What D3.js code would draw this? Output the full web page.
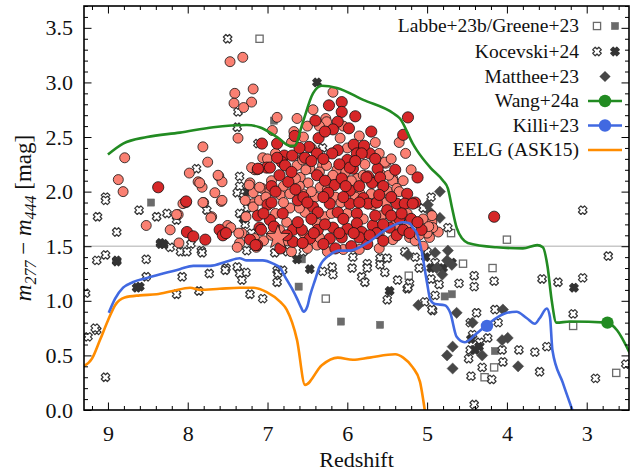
<!DOCTYPE html>
<html><head><meta charset="utf-8">
<script src="https://cdn.jsdelivr.net/npm/d3@7"></script>
<style>
body{margin:0;background:#fff}
svg{display:block}
text{font-family:"Liberation Serif","Times New Roman",serif;fill:#111}
</style>
</head><body>
<svg id="chart" width="634" height="476"></svg>
<script>
// ---- data: redshift z, colour m277 - m444 ----
const zTicks = [9, 8, 7, 6, 5, 4, 3];
const yTicks = [0, 0.5, 1, 1.5, 2, 2.5, 3, 3.5];

const labbeOpen = [[7.10,3.40],[6.27,1.02],[5.23,1.23],[4.70,1.62],[4.00,1.56],[4.55,1.34],[4.18,1.30],
  [3.17,0.77],[2.63,0.34],[4.28,0.30],[4.16,0.39]];
const greeneFilled = [[8.46,1.90],[6.92,2.65],[6.57,1.38],[6.61,1.13],[6.08,0.81],[5.59,0.78],
  [4.78,1.04],[4.69,1.06],[4.15,0.54]];

const kocevskiOpen = [[7.50,3.40],[7.37,2.73],[7.38,2.59],[7.89,2.21],[7.35,2.14],[8.61,1.83],[8.39,1.77],
  [8.26,1.80],[9.13,1.77],[9.03,1.95],[9.03,1.92],[7.38,1.99],[7.76,1.83],[9.14,1.37],[9.03,1.42],
  [8.89,1.63],[8.89,1.37],[9.25,0.67],[9.14,0.73],[9.03,0.30],[9.28,1.07],[8.14,1.74],[8.52,1.38],
  [8.34,1.52],[8.22,1.49],[8.09,1.45],[7.96,1.52],[7.83,1.46],[7.73,1.25],[7.52,1.30],[7.38,1.31],
  [7.27,1.26],[8.07,1.22],[8.52,1.22],[7.82,1.44],[8.14,1.06],[7.86,1.09],[7.35,1.25],[7.32,1.19],
  [7.22,1.06],[7.06,1.02],[6.88,1.17],[9.16,0.75],[7.26,1.46],[8.01,1.45],[7.53,1.28],[6.88,1.28],
  [5.93,1.40],[5.75,1.34],[5.59,1.39],[5.37,1.19],[5.22,1.16],[6.91,1.44],[6.87,1.25],[6.81,1.28],
  [6.31,1.27],[6.19,1.31],[6.18,1.24],[5.94,1.30],[5.75,1.30],[5.82,1.22],[5.78,1.17],[5.59,1.33],
  [5.50,1.39],[5.53,1.26],[5.25,1.11],[5.50,1.01],[5.03,0.99],[4.93,0.91],[3.05,1.83],[2.73,1.41],
  [3.05,1.21],[3.36,1.17],[3.56,1.20],[3.17,0.88],[4.41,1.23],[4.41,1.13],[4.16,1.18],[4.60,1.16],
  [5.24,1.12],[4.74,1.67],[3.85,0.55],[3.65,0.53],[3.50,0.58],[3.59,0.35],[2.89,0.29],[2.51,0.42],
  [4.41,0.05],[4.05,0.44],[4.19,0.28],[4.31,0.39],[4.45,0.31],[4.48,0.47],[4.46,0.55],[4.06,0.55],
  [4.38,0.89],[4.15,0.92],[4.11,0.80],[4.24,0.66],[4.34,0.62],[4.43,0.69],[4.46,0.80],[5.28,1.45],
  [4.94,0.92],[7.35,2.05],[7.30,1.95],[7.25,1.85],[7.35,1.80],[7.28,1.70],[7.20,1.62],[5.05,1.85],
  [4.95,1.95],[5.00,1.45],[4.90,1.35],[5.10,1.30],[5.15,1.40],[4.85,1.15],[4.90,1.05],[4.95,1.20],
  [6.75,1.45],[6.55,1.45],[7.12,2.44],[6.31,2.40]];
const kocevskiFilled = [[6.38,3.00],[6.63,1.38],[6.47,1.29],[5.47,1.09],[3.16,1.12],[4.69,1.35],[4.40,0.55],
  [8.64,1.12],[8.60,1.13],[8.89,1.36],[8.34,1.53],[8.30,1.52],[7.30,1.75],[7.25,2.00],[4.45,0.65],
  [4.35,0.58],[5.02,1.40],[4.95,1.30],[4.80,1.30]];

const mattheeDiamonds = [[4.84,2.00],[4.99,1.88],[4.96,1.81],[4.84,1.76],[4.74,1.46],[4.75,1.37],[4.69,1.33],
  [4.90,1.44],[5.24,1.42],[4.88,1.30],[4.81,1.24],[5.11,0.96],[4.63,0.89],[4.43,0.80],[4.05,0.92],
  [3.99,0.66],[4.06,0.64],[4.68,0.58],[4.75,0.50],[4.68,0.38],[3.86,0.40],[4.31,0.50]];

const lrdLight = [[7.47,3.19],[7.31,3.23],[7.41,2.90],[7.42,2.81],[7.18,2.94],[7.20,2.82],[7.30,2.77],
  [7.37,2.49],[7.81,2.41],[8.79,2.31],[7.75,2.27],[8.87,2.11],[8.81,2.00],[7.98,2.17],[7.87,2.09],
  [7.82,2.04],[7.61,2.14],[7.57,2.09],[7.66,1.99],[7.80,1.90],[7.58,1.91],[7.22,2.08],[7.10,2.21],
  [7.07,2.03],[6.94,2.56],[6.88,2.68],[8.12,1.79],[8.06,1.89],[7.18,1.89],[6.63,2.67],[6.43,2.75],
  [6.18,2.91],[6.27,2.67],[6.26,2.64],[6.67,2.55],[6.09,2.49],[6.56,2.31],[6.31,2.24],[5.85,2.51],
  [5.27,2.35],[5.52,2.26],[5.57,2.15],[5.43,2.12],[7.16,2.20],[7.06,2.31],[6.63,2.24],[6.56,2.29],
  [6.47,2.21],[6.26,2.24],[6.13,2.20],[5.53,2.27],[5.43,2.10],[5.88,2.12],[7.18,1.99],[6.97,2.01],
  [6.84,1.97],[6.59,2.13],[6.49,2.08],[6.56,1.98],[6.34,2.04],[5.50,2.01],[5.38,2.03],[5.84,1.98],
  [6.72,1.98],[7.18,1.86],[7.10,1.92],[6.72,1.85],[6.53,1.81],[6.28,1.77],[5.57,1.78],[5.25,1.80],
  [4.94,1.72],[7.16,1.57],[6.76,1.72],[6.38,1.71],[5.43,1.56],[5.22,1.58],[4.97,1.58],[4.86,1.63],
  [4.94,1.78],[4.93,1.67],[7.14,1.49],[6.38,1.51],[7.81,1.90],[7.57,1.92],[7.50,1.69],[7.32,1.62],
  [7.35,1.53],[7.70,1.77],[7.85,2.08],[7.62,2.15],[7.28,1.92],[7.10,2.04],[7.20,2.22],[7.13,2.20],
  [8.52,1.69],[8.22,1.65],[8.14,1.79],[8.11,1.53],[7.71,1.76],[7.46,1.67],[7.36,1.62],[7.38,1.49],
  [7.27,1.77],[7.23,2.06],[8.02,1.90],[5.60,1.48],[5.85,1.47],[6.05,1.47],[6.25,1.45],[6.50,1.48],
  [6.70,1.45],[7.05,1.55],[6.85,1.65],[6.40,1.95],[6.15,1.95],[5.95,2.10],[5.70,1.98],[5.30,2.10],
  [5.20,2.20],[5.15,1.55],[5.05,1.75],[5.00,1.62],[6.00,2.40],[6.50,2.60],[5.65,2.45],[5.45,2.30],
  [6.95,2.10],[6.60,2.05],[6.20,2.12],[5.78,2.25],[6.90,1.80],
  [6.80,2.05],[6.65,2.12],[6.52,2.20],[6.35,2.18],[6.18,2.15],[6.02,2.18],[5.80,2.15],[5.62,2.10],
  [5.48,2.15],[5.35,2.00],[5.25,1.70],[5.40,1.70],[5.60,1.62],[5.80,1.75],[6.00,1.80],[6.20,1.80],
  [6.35,1.58],[6.55,1.62],[6.75,1.55],[6.95,1.60],[6.80,1.90],[6.60,1.85],[6.45,2.00],[6.25,2.02],
  [6.08,1.90],[5.90,1.95],[5.68,1.88],[5.52,1.90],[7.02,1.95],[6.90,2.35],[6.70,2.45],[6.55,2.50],
  [6.35,2.60],[6.05,2.60],[5.80,2.40],[5.60,2.35],[7.00,2.30],[6.45,2.40],[5.35,2.45],[5.10,1.60],
  [5.05,1.50],[4.98,1.68]];
const lrdDark = [[8.37,2.04],[8.02,1.91],[7.07,2.44],[6.88,2.44],[7.12,1.78],[7.00,1.88],[6.66,2.51],
  [6.48,2.41],[6.36,2.49],[6.23,2.79],[6.07,2.82],[6.07,2.73],[6.12,2.64],[6.18,2.57],[5.90,2.69],
  [5.92,2.43],[6.00,2.29],[6.12,2.38],[6.79,2.33],[6.82,2.27],[7.01,2.22],[5.24,2.68],[5.30,2.52],
  [5.88,2.35],[5.72,2.35],[5.79,2.42],[5.93,2.21],[5.62,2.21],[5.74,2.14],[5.12,2.13],[4.16,1.77],
  [7.12,2.21],[6.97,2.22],[6.88,2.31],[6.78,2.24],[6.69,2.33],[6.53,2.31],[6.38,2.35],[6.19,2.35],
  [5.97,2.22],[5.82,2.35],[6.74,2.09],[6.38,2.15],[6.16,2.06],[6.24,1.99],[5.97,2.01],[5.69,2.08],
  [5.59,2.13],[5.76,2.13],[5.25,1.98],[5.15,1.90],[6.07,2.12],[6.81,1.80],[6.62,1.92],[6.43,1.86],
  [6.22,1.89],[6.12,1.81],[5.97,1.89],[5.80,1.94],[5.74,1.89],[5.63,1.90],[5.50,1.83],[5.38,1.89],
  [5.28,1.89],[5.18,1.89],[5.88,1.80],[6.37,1.81],[7.10,1.67],[6.97,1.74],[6.84,1.48],[6.68,1.65],
  [6.57,1.65],[6.47,1.57],[6.18,1.67],[6.00,1.66],[5.88,1.71],[5.82,1.63],[5.68,1.69],[5.63,1.62],
  [5.47,1.67],[5.38,1.60],[5.30,1.65],[5.07,1.65],[6.22,1.57],[6.37,1.65],[6.07,1.58],[6.68,1.54],
  [6.56,1.53],[8.01,1.63],[7.93,1.59],[7.78,1.56],[7.60,1.65],[7.56,1.60],[7.22,1.56],[7.13,1.51],
  [7.52,1.62],[7.08,1.65],[7.15,1.51],[5.55,1.55],[5.75,1.52],[5.95,1.50],[6.15,1.48],[6.30,1.52],
  [5.20,1.75],[5.35,1.75],[5.45,1.78],[5.65,1.78],[5.85,1.58],[6.05,1.75],[6.45,1.75],[6.55,1.95],
  [6.95,1.90],
  [6.95,2.05],[6.85,2.15],[6.70,2.18],[6.60,2.40],[6.45,2.28],[6.30,2.30],[6.28,2.10],[6.10,2.25],
  [6.02,2.05],[5.90,2.28],[5.85,2.05],[5.65,2.30],[5.55,2.05],[5.45,1.95],[5.40,2.20],[5.32,1.80],
  [5.22,1.62],[5.12,1.72],[5.55,1.70],[5.72,1.60],[5.92,1.62],[6.10,1.62],[6.28,1.70],[6.42,1.62],
  [6.62,1.72],[6.76,1.60],[6.92,1.68],[7.05,1.80],[6.50,1.90],[6.30,1.95],[6.05,1.95],[5.85,1.90],
  [5.60,1.97],[6.90,2.00],[6.65,2.02],[5.98,2.58],[6.28,2.55],[6.40,2.65],[5.70,2.55]];
const lrdStar = [[6.87,1.58]];

// model colour tracks
const wangTrack = [[9.00,2.34],[8.81,2.44],[8.51,2.50],[8.10,2.54],[7.68,2.59],[7.26,2.61],[7.10,2.59],
  [6.88,2.50],[6.72,2.42],[6.66,2.42],[6.56,2.63],[6.43,2.90],[6.32,2.97],[6.13,2.95],[5.80,2.84],
  [5.43,2.72],[5.34,2.67],[5.18,2.44],[5.13,2.38],[4.96,2.22],[4.80,2.10],[4.74,2.03],[4.69,1.86],
  [4.63,1.67],[4.56,1.57],[4.49,1.53],[4.13,1.49],[3.80,1.48],[3.62,1.51],[3.55,1.49],[3.49,1.31],
  [3.44,1.01],[3.38,0.80],[3.21,0.81],[2.74,0.80],[2.62,0.73],[2.46,0.52]];
const wangPoint = [[2.74,0.80]];
const killiTrack = [[8.99,0.89],[8.91,1.02],[8.81,1.12],[8.69,1.17],[8.51,1.21],[8.31,1.25],[8.10,1.29],
  [7.93,1.32],[7.72,1.32],[7.51,1.36],[7.35,1.39],[7.26,1.37],[7.06,1.37],[6.93,1.34],[6.84,1.30],
  [6.78,1.22],[6.70,1.12],[6.63,1.02],[6.58,0.94],[6.55,0.90],[6.50,0.95],[6.47,1.04],[6.40,1.20],
  [6.35,1.31],[6.22,1.42],[6.09,1.46],[5.97,1.46],[5.75,1.53],[5.50,1.66],[5.30,1.72],[5.22,1.71],
  [5.18,1.67],[5.13,1.62],[5.07,1.46],[5.00,1.16],[4.96,1.01],[4.90,0.97],[4.78,0.96],[4.71,0.89],
  [4.63,0.67],[4.53,0.62],[4.38,0.70],[4.25,0.78],[4.00,0.89],[3.88,0.90],[3.75,0.84],[3.65,0.79],
  [3.59,0.84],[3.50,0.93],[3.46,0.85],[3.43,0.55],[3.30,0.25],[3.18,0.00]];
const killiPoint = [[4.25,0.77]];
const eelgTrack = [[9.31,0.40],[9.20,0.47],[9.10,0.64],[9.00,0.82],[8.91,0.96],[8.79,1.03],[8.60,1.05],
  [8.39,1.06],[8.19,1.09],[7.97,1.12],[7.85,1.10],[7.60,1.11],[7.35,1.12],[7.18,1.12],[7.01,1.08],
  [6.84,0.99],[6.76,0.92],[6.63,0.64],[6.53,0.23],[6.32,0.41],[6.12,0.48],[5.93,0.46],[5.72,0.48],
  [5.40,0.51],[5.30,0.48],[5.18,0.39],[5.09,0.26],[5.03,0.00]];

const colors = {wang:"#228b22", killi:"#4169e1", eelg:"#ff8c00", light:"#fa8072", dark:"#d62728",
  grey:"#6b6b6b", xEdge:"#333333", diamond:"#474747"};

// ---- layout ----
const svg = d3.select("#chart");
const pL = 84, pR = 629, pT = 6, pB = 410;
const x = d3.scaleLinear().domain([9.3, 2.47]).range([pL, pR]);
const y = d3.scaleLinear().domain([0, 3.7]).range([pB, pT]);

svg.append("defs").append("clipPath").attr("id", "plotClip")
  .append("rect").attr("x", pL).attr("y", pT).attr("width", pR - pL).attr("height", pB - pT);
const plot = svg.append("g").attr("clip-path", "url(#plotClip)");

// reference colour cut
plot.append("line").attr("x1", pL).attr("x2", pR).attr("y1", y(1.5)).attr("y2", y(1.5))
  .attr("stroke", "#c8c8c8").attr("stroke-width", 1.6);

// marker shapes
function xMarker(a, b) {
  const p = [[-b,-a],[b,-a],[b,-b],[a,-b],[a,b],[b,b],[b,a],[-b,a],[-b,b],[-a,b],[-a,-b],[-b,-b]];
  const s = Math.SQRT1_2;
  return "M" + p.map(([u, v]) => [(u - v) * s, (u + v) * s].map(n => n.toFixed(2)).join(",")).join("L") + "Z";
}
function starPath(R, r) {
  const pts = [];
  for (let i = 0; i < 10; i++) {
    const ang = -Math.PI / 2 + i * Math.PI / 5, rad = i % 2 ? r : R;
    pts.push([rad * Math.cos(ang), rad * Math.sin(ang)]);
  }
  return "M" + pts.map(p => p.map(n => n.toFixed(2)).join(",")).join("L") + "Z";
}
const X_PATH = xMarker(4.3, 1.75);
const DIAMOND = "M0,-5.6L5.6,0L0,5.6L-5.6,0Z";

function squares(g, data, filled) {
  g.selectAll(null).data(data).join("rect")
    .attr("x", d => x(d[0]) - 3.6).attr("y", d => y(d[1]) - 3.6)
    .attr("width", 7.2).attr("height", 7.2)
    .attr("fill", filled ? colors.grey : "#fff")
    .attr("stroke", colors.grey).attr("stroke-width", filled ? 0.5 : 1.3);
}
function crosses(g, data, filled) {
  g.selectAll(null).data(data).join("path")
    .attr("d", X_PATH).attr("transform", d => `translate(${x(d[0])},${y(d[1])})`)
    .attr("fill", filled ? colors.xEdge : "#fff")
    .attr("stroke", colors.xEdge).attr("stroke-width", 1.2).attr("stroke-linejoin", "round");
}

squares(plot, labbeOpen, false);
squares(plot, greeneFilled, true);
crosses(plot, kocevskiOpen, false);
crosses(plot, kocevskiFilled, true);
plot.selectAll(null).data(mattheeDiamonds).join("path")
  .attr("d", DIAMOND).attr("transform", d => `translate(${x(d[0])},${y(d[1])})`)
  .attr("fill", colors.diamond).attr("stroke", colors.diamond).attr("stroke-width", 0.5);

plot.selectAll(null).data(lrdLight).join("circle")
  .attr("cx", d => x(d[0])).attr("cy", d => y(d[1])).attr("r", 5.0)
  .attr("fill", colors.light).attr("stroke", "#111").attr("stroke-width", 0.8);
plot.selectAll(null).data(lrdDark).join("circle")
  .attr("cx", d => x(d[0])).attr("cy", d => y(d[1])).attr("r", 5.6)
  .attr("fill", colors.dark).attr("stroke", "#111").attr("stroke-width", 0.8);
plot.selectAll(null).data(lrdStar).join("path")
  .attr("d", starPath(12.5, 5.2)).attr("transform", d => `translate(${x(d[0])},${y(d[1])})`)
  .attr("fill", colors.light).attr("stroke", "#111").attr("stroke-width", 0.8);

const line = d3.line().x(d => x(d[0])).y(d => y(d[1])).curve(d3.curveMonotoneX);
[[eelgTrack, colors.eelg], [killiTrack, colors.killi], [wangTrack, colors.wang]].forEach(([data, c]) => {
  plot.append("path").datum(data).attr("d", line).attr("fill", "none")
    .attr("stroke", c).attr("stroke-width", 2.6).attr("stroke-linejoin", "round");
});
plot.selectAll(null).data(wangPoint).join("circle")
  .attr("cx", d => x(d[0])).attr("cy", d => y(d[1])).attr("r", 6.2).attr("fill", colors.wang);
plot.selectAll(null).data(killiPoint).join("circle")
  .attr("cx", d => x(d[0])).attr("cy", d => y(d[1])).attr("r", 6.2).attr("fill", colors.killi);

// ---- axes: inward ticks on all four sides ----
const zMinor = d3.range(9.2, 2.4, -0.2).map(v => +v.toFixed(1)).filter(v => Math.abs(v - Math.round(v)) > 1e-6);
const yMinor = d3.range(0, 3.71, 0.1).map(v => +v.toFixed(1)).filter(v => Math.abs(v * 2 - Math.round(v * 2)) > 1e-6);

function styleAxis(g) {
  g.select(".domain").remove();
  g.selectAll(".tick line").attr("stroke", "#000").attr("stroke-width", 1);
  g.selectAll(".tick text").attr("font-size", 22).attr("fill", "#111")
    .style("font-family", '"Liberation Serif","Times New Roman",serif');
}
svg.append("g").attr("transform", `translate(0,${pB})`)
  .call(d3.axisBottom(x).tickValues(zTicks).tickSize(-7.5).tickPadding(15).tickFormat(d3.format("d"))).call(styleAxis);
svg.append("g").attr("transform", `translate(0,${pB})`)
  .call(d3.axisBottom(x).tickValues(zMinor).tickSize(-4).tickFormat("")).call(styleAxis);
svg.append("g").attr("transform", `translate(0,${pT})`)
  .call(d3.axisTop(x).tickValues(zTicks).tickSize(-7.5).tickFormat("")).call(styleAxis);
svg.append("g").attr("transform", `translate(0,${pT})`)
  .call(d3.axisTop(x).tickValues(zMinor).tickSize(-4).tickFormat("")).call(styleAxis);
svg.append("g").attr("transform", `translate(${pL},0)`)
  .call(d3.axisLeft(y).tickValues(yTicks).tickSize(-7.5).tickPadding(11).tickFormat(d3.format(".1f"))).call(styleAxis);
svg.append("g").attr("transform", `translate(${pL},0)`)
  .call(d3.axisLeft(y).tickValues(yMinor).tickSize(-4).tickFormat("")).call(styleAxis);
svg.append("g").attr("transform", `translate(${pR},0)`)
  .call(d3.axisRight(y).tickValues(yTicks).tickSize(-7.5).tickFormat("")).call(styleAxis);
svg.append("g").attr("transform", `translate(${pR},0)`)
  .call(d3.axisRight(y).tickValues(yMinor).tickSize(-4).tickFormat("")).call(styleAxis);

svg.append("rect").attr("x", pL).attr("y", pT).attr("width", pR - pL).attr("height", pB - pT)
  .attr("fill", "none").attr("stroke", "#000").attr("stroke-width", 1.6);

// axis titles
svg.append("text").attr("x", (pL + pR) / 2).attr("y", 467).attr("text-anchor", "middle")
  .attr("font-size", 22).text("Redshift");
const yl = svg.append("text").attr("transform", "translate(31,218) rotate(-90)")
  .attr("text-anchor", "middle").attr("font-size", 23);
yl.append("tspan").attr("font-style", "italic").text("m");
yl.append("tspan").attr("font-style", "italic").attr("font-size", 16).attr("dy", 5).text("277");
yl.append("tspan").attr("dy", -5).text(" \u2212 ");
yl.append("tspan").attr("font-style", "italic").text("m");
yl.append("tspan").attr("font-style", "italic").attr("font-size", 16).attr("dy", 5).text("444");
yl.append("tspan").attr("dy", -5).text(" [mag]");

// ---- legend ----
const legendRows = ["Labbe+23b/Greene+23", "Kocevski+24", "Matthee+23", "Wang+24a", "Killi+23", "EELG (ASK15)"];
const legendY = [26, 51.5, 76.5, 101, 125.5, 150];
const lg = svg.append("g");
legendRows.forEach((t, i) => {
  lg.append("text").attr("x", 579).attr("y", legendY[i] + 6).attr("text-anchor", "end")
    .attr("font-size", 19.5).text(t);
});
squares(lg, [[x.invert(597), y.invert(legendY[0])]], false);
squares(lg, [[x.invert(615), y.invert(legendY[0])]], true);
crosses(lg, [[x.invert(597), y.invert(legendY[1])]], false);
crosses(lg, [[x.invert(615), y.invert(legendY[1])]], true);
lg.append("path").attr("d", DIAMOND).attr("transform", `translate(605,${legendY[2]})`).attr("fill", colors.diamond);
[[3, colors.wang, true], [4, colors.killi, true], [5, colors.eelg, false]].forEach(([i, c, dot]) => {
  lg.append("line").attr("x1", 588).attr("x2", 622).attr("y1", legendY[i]).attr("y2", legendY[i])
    .attr("stroke", c).attr("stroke-width", 2.6);
  if (dot) lg.append("circle").attr("cx", 605).attr("cy", legendY[i]).attr("r", 6.2).attr("fill", c);
});
</script>
</body></html>
